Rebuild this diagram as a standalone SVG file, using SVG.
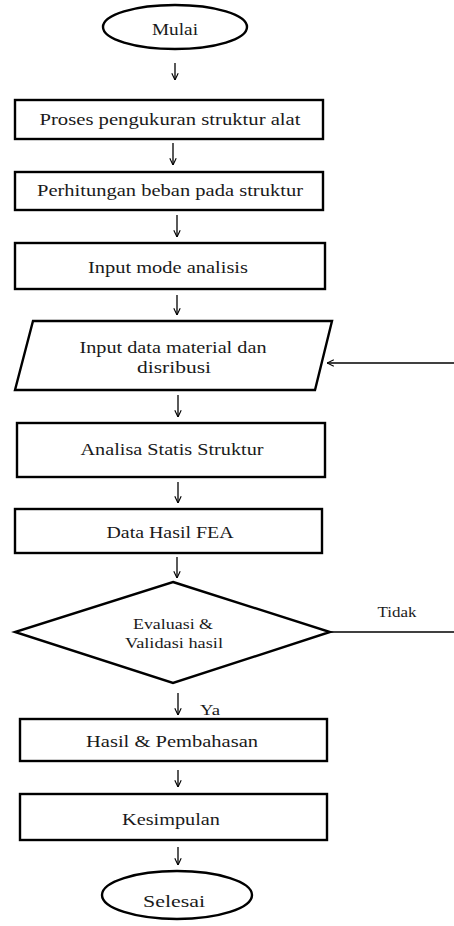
<svg xmlns="http://www.w3.org/2000/svg" width="454" height="926" viewBox="0 0 454 926">
<style>
.shape{fill:#fff;stroke:#000;stroke-width:2.4}
.t{font-family:"Liberation Serif","Times New Roman",serif;font-size:17px;fill:#1a1a1a;text-anchor:middle}
.s{font-size:14px}
.c{stroke:#000;stroke-width:1.3;fill:none}
</style>
<defs>
<marker id="ah" viewBox="0 0 10 10" refX="9.5" refY="5" markerWidth="8" markerHeight="8" markerUnits="userSpaceOnUse" orient="auto">
<path d="M1,1 L9.5,5 L1,9" fill="none" stroke="#000" stroke-width="1.4"/>
</marker>
</defs>
<rect width="454" height="926" fill="#fff"/>
<g id="connectors">
<line class="c" x1="175" y1="63" x2="175" y2="80" marker-end="url(#ah)"/>
<line class="c" x1="173" y1="143" x2="173" y2="165" marker-end="url(#ah)"/>
<line class="c" x1="177" y1="215" x2="177" y2="237" marker-end="url(#ah)"/>
<line class="c" x1="177" y1="295" x2="177" y2="315" marker-end="url(#ah)"/>
<line class="c" x1="178" y1="395" x2="178" y2="417" marker-end="url(#ah)"/>
<line class="c" x1="178" y1="482" x2="178" y2="503" marker-end="url(#ah)"/>
<line class="c" x1="177" y1="557" x2="177" y2="578" marker-end="url(#ah)"/>
<line class="c" x1="178" y1="693" x2="178" y2="715" marker-end="url(#ah)"/>
<line class="c" x1="178" y1="770" x2="178" y2="787" marker-end="url(#ah)"/>
<line class="c" x1="178" y1="847" x2="178" y2="865" marker-end="url(#ah)"/>
<line class="c" x1="454" y1="363" x2="327" y2="363" marker-end="url(#ah)"/>
<line class="c" x1="330" y1="632" x2="454" y2="632"/>
<text class="t s" x="397" y="617" textLength="39" lengthAdjust="spacingAndGlyphs">Tidak</text>
<text class="t s" x="210" y="715" textLength="20" lengthAdjust="spacingAndGlyphs">Ya</text>
</g>
<g id="mulai">
<ellipse class="shape" cx="175" cy="27" rx="72" ry="22"/>
<text class="t" x="175" y="35" textLength="46" lengthAdjust="spacingAndGlyphs">Mulai</text>
</g>
<g id="proses">
<rect class="shape" x="15" y="100" width="308" height="39"/>
<text class="t" x="170" y="125" textLength="261" lengthAdjust="spacingAndGlyphs">Proses pengukuran struktur alat</text>
</g>
<g id="perhitungan">
<rect class="shape" x="15" y="172" width="308" height="38"/>
<text class="t" x="170" y="196" textLength="266" lengthAdjust="spacingAndGlyphs">Perhitungan beban pada struktur</text>
</g>
<g id="input-mode">
<rect class="shape" x="15" y="243" width="310" height="46"/>
<text class="t" x="168" y="273" textLength="160" lengthAdjust="spacingAndGlyphs">Input mode analisis</text>
</g>
<g id="input-data">
<polygon class="shape" points="33,321 332,321 315,390 15,390"/>
<text class="t" x="173" y="353" textLength="187" lengthAdjust="spacingAndGlyphs">Input data material dan</text>
<text class="t" x="174" y="373" textLength="74" lengthAdjust="spacingAndGlyphs">disribusi</text>
</g>
<g id="analisa">
<rect class="shape" x="17" y="423" width="308" height="54"/>
<text class="t" x="172" y="455" textLength="183" lengthAdjust="spacingAndGlyphs">Analisa Statis Struktur</text>
</g>
<g id="data-hasil">
<rect class="shape" x="15" y="509" width="307" height="44"/>
<text class="t" x="170" y="538" textLength="127" lengthAdjust="spacingAndGlyphs">Data Hasil FEA</text>
</g>
<g id="evaluasi">
<polygon class="shape" points="173,582 330,632 173,683 15,632"/>
<text class="t s" x="173" y="629" textLength="80" lengthAdjust="spacingAndGlyphs">Evaluasi &amp;</text>
<text class="t s" x="174" y="648" textLength="98" lengthAdjust="spacingAndGlyphs">Validasi hasil</text>
</g>
<g id="hasil">
<rect class="shape" x="20" y="719" width="307" height="42"/>
<text class="t" x="172" y="747" textLength="172" lengthAdjust="spacingAndGlyphs">Hasil &amp; Pembahasan</text>
</g>
<g id="kesimpulan">
<rect class="shape" x="20" y="794" width="307" height="46"/>
<text class="t" x="171" y="825" textLength="98" lengthAdjust="spacingAndGlyphs">Kesimpulan</text>
</g>
<g id="selesai">
<ellipse class="shape" cx="177" cy="895" rx="75" ry="24"/>
<text class="t" x="174" y="907" textLength="62" lengthAdjust="spacingAndGlyphs">Selesai</text>
</g>
</svg>
